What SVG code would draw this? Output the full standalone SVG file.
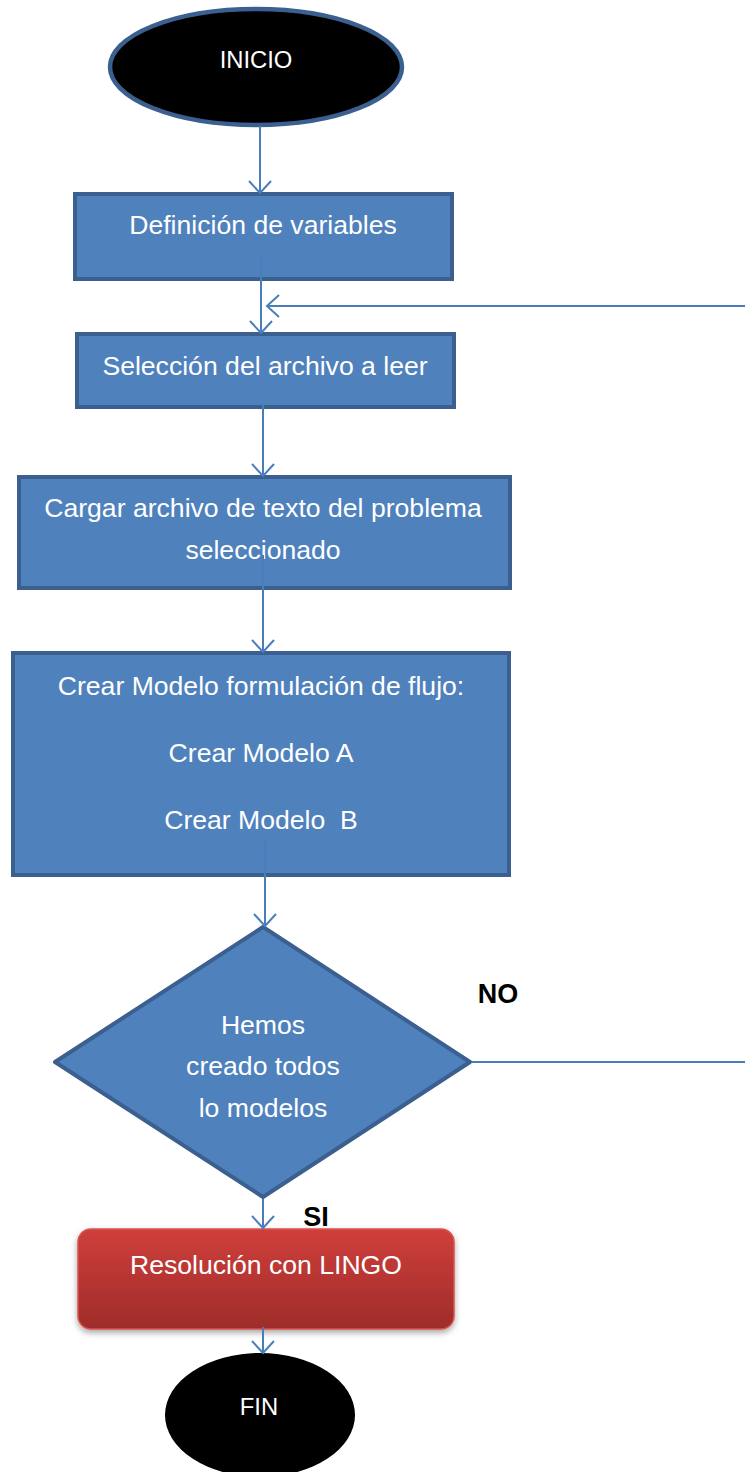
<svg xmlns="http://www.w3.org/2000/svg" width="745" height="1472" viewBox="0 0 745 1472">
<style>
.box{fill:#4f81bd;stroke:#3b5f8e;stroke-width:4}
.t{font-family:"Liberation Sans",Arial,sans-serif;font-size:26.6px;fill:#ffffff;text-anchor:middle}
.ts{font-family:"Liberation Sans",Arial,sans-serif;font-size:23.8px;fill:#ffffff;text-anchor:middle}
.lbl{font-family:"Liberation Sans",Arial,sans-serif;font-size:27px;font-weight:bold;fill:#000000;text-anchor:middle}
.c{fill:none;stroke:#4a7ebb;stroke-width:2}
</style>
<defs>
<marker id="ah" markerUnits="userSpaceOnUse" markerWidth="16" markerHeight="24" refX="13" refY="12" orient="auto" viewBox="0 0 16 24">
<path d="M1,1 L13,12 L1,23" fill="none" stroke="#4a7ebb" stroke-width="2"/>
</marker>
<linearGradient id="red" x1="0" y1="0" x2="0" y2="1">
<stop offset="0" stop-color="#cf3f3b"/>
<stop offset="1" stop-color="#9e2c2a"/>
</linearGradient>
<filter id="sh" x="-10%" y="-10%" width="120%" height="140%">
<feDropShadow dx="0" dy="3" stdDeviation="3" flood-color="#000" flood-opacity="0.35"/>
</filter>
</defs>
<g id="inicio">
<ellipse cx="256" cy="67" rx="146" ry="58" fill="#000000" stroke="#3b5f8e" stroke-width="4.5"/>
<text class="ts" x="256" y="68">INICIO</text>
</g>
<g id="definicion">
<rect class="box" x="75" y="194" width="377" height="85"/>
<text class="t" x="263" y="234">Definición de variables</text>
</g>
<g id="seleccion">
<rect class="box" x="77" y="334" width="377" height="73"/>
<text class="t" x="265" y="375">Selección del archivo a leer</text>
</g>
<g id="cargar">
<rect class="box" x="19" y="477" width="491" height="111"/>
<text class="t" x="263" y="517">Cargar archivo de texto del problema</text>
<text class="t" x="263" y="559">seleccionado</text>
</g>
<g id="crear">
<rect class="box" x="13" y="653" width="496" height="222"/>
<text class="t" x="261" y="695">Crear Modelo formulación de flujo:</text>
<text class="t" x="261" y="762">Crear Modelo A</text>
<text class="t" x="261" y="829" xml:space="preserve">Crear Modelo  B</text>
</g>
<g id="decision">
<polygon points="263,927 470,1062 263,1197 55,1062" fill="#4f81bd" stroke="#3b5f8e" stroke-width="4" stroke-linejoin="round"/>
<text class="t" x="263" y="1034">Hemos</text>
<text class="t" x="263" y="1075">creado todos</text>
<text class="t" x="263" y="1117">lo modelos</text>
</g>
<g id="lingo">
<rect x="78" y="1229" width="376" height="100" rx="13" fill="url(#red)" stroke="#d9534f" stroke-width="1.5" filter="url(#sh)"/>
<text class="t" x="266" y="1274">Resolución con LINGO</text>
</g>
<g id="fin">
<ellipse cx="260" cy="1415" rx="95" ry="62" fill="#000000"/>
<text class="ts" x="259" y="1415">FIN</text>
</g>
<g id="connectors">
<line class="c" x1="260" y1="126" x2="260" y2="193" marker-end="url(#ah)"/>
<line class="c" x1="261" y1="258" x2="261" y2="333" marker-end="url(#ah)"/>
<line class="c" x1="745" y1="306" x2="267" y2="306" marker-end="url(#ah)"/>
<line class="c" x1="263" y1="403" x2="263" y2="476" marker-end="url(#ah)"/>
<line class="c" x1="263" y1="555" x2="263" y2="652" marker-end="url(#ah)"/>
<line class="c" x1="265" y1="840" x2="265" y2="926" marker-end="url(#ah)"/>
<line class="c" x1="472" y1="1062" x2="745" y2="1062"/>
<line class="c" x1="263" y1="1199" x2="263" y2="1228" marker-end="url(#ah)"/>
<line class="c" x1="263" y1="1327" x2="263" y2="1353" marker-end="url(#ah)"/>
<text class="lbl" x="498" y="1003">NO</text>
<text class="lbl" x="316" y="1226">SI</text>
</g>
</svg>
